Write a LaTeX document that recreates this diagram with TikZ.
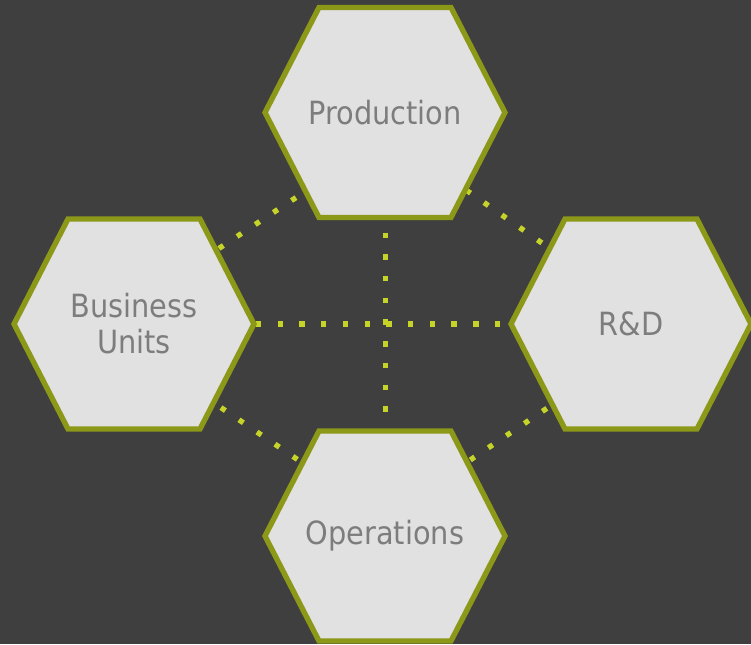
\documentclass[tikz,border=0pt]{standalone}
\usepackage{fontspec}
\setmainfont{DejaVu Sans Condensed}
\usepackage{tikz}

\definecolor{bgdark}{HTML}{3F3F3F}
\definecolor{hexfill}{HTML}{E1E1E1}
\definecolor{hexline}{HTML}{8C9818}
\definecolor{dotline}{HTML}{C6D42A}
\definecolor{txtgray}{HTML}{7D7D7D}

\begin{document}
\begin{tikzpicture}[x=0.75pt,y=-0.75pt,
		hexa/.style={draw=hexline, fill=hexfill, line width=4pt},
		link/.style={draw=dotline, line width=4pt, dash pattern=on 4pt off 12.3pt},
		lbl/.style={text=txtgray, font=\fontsize{24}{27}\selectfont, align=center}]
		
		\fill[bgdark] (0,0) rectangle (751,644);
		\useasboundingbox (0,0) rectangle (751,644);
		
		%
		\coordinate (P) at (385,112.5);
		\coordinate (B) at (134,324);
		\coordinate (R) at (631,324);
		\coordinate (O) at (385,536);
		
		%
		\coordinate (h1) at (234.1,324);
		\coordinate (h2) at (530,324);
		\coordinate (v1) at (385.5,210.8);
		\coordinate (v2) at (385.5,424);
		\coordinate (ul1) at (200.8,260.4);
		\coordinate (ul2) at (312,187);
		\coordinate (ur1) at (466.2,190.1);
		\coordinate (ur2) at (562,257);
		\coordinate (ll1) at (203,395.4);
		\coordinate (ll2) at (311.5,469);
		\coordinate (lr1) at (564.8,396.2);
		\coordinate (lr2) at (457.3,468.7);
		
		\draw[link] (h1) -- (h2);
		\draw[link] (v1) -- (v2);
		\draw[link] (ul1) -- (ul2);
		\draw[link] (ur1) -- (ur2);
		\draw[link] (ll1) -- (ll2);
		\draw[link] (lr1) -- (lr2);
		
		%
		\foreach \c in {P,B,R,O} {
			\draw[hexa, shift={(\c)}] (-120,0) -- (-66,-105) -- (66,-105) -- (120,0) -- (66,105) -- (-66,105) -- cycle;
		}
		
		\node[lbl] (prod) at (P) {Production};
		\node[lbl] (bus) at (B) {Business\\Units};
		\node[lbl] (rnd) at (R) {R\&D};
		\node[lbl] (ops) at (O) {Operations};
		
	\end{tikzpicture}
\end{document}
